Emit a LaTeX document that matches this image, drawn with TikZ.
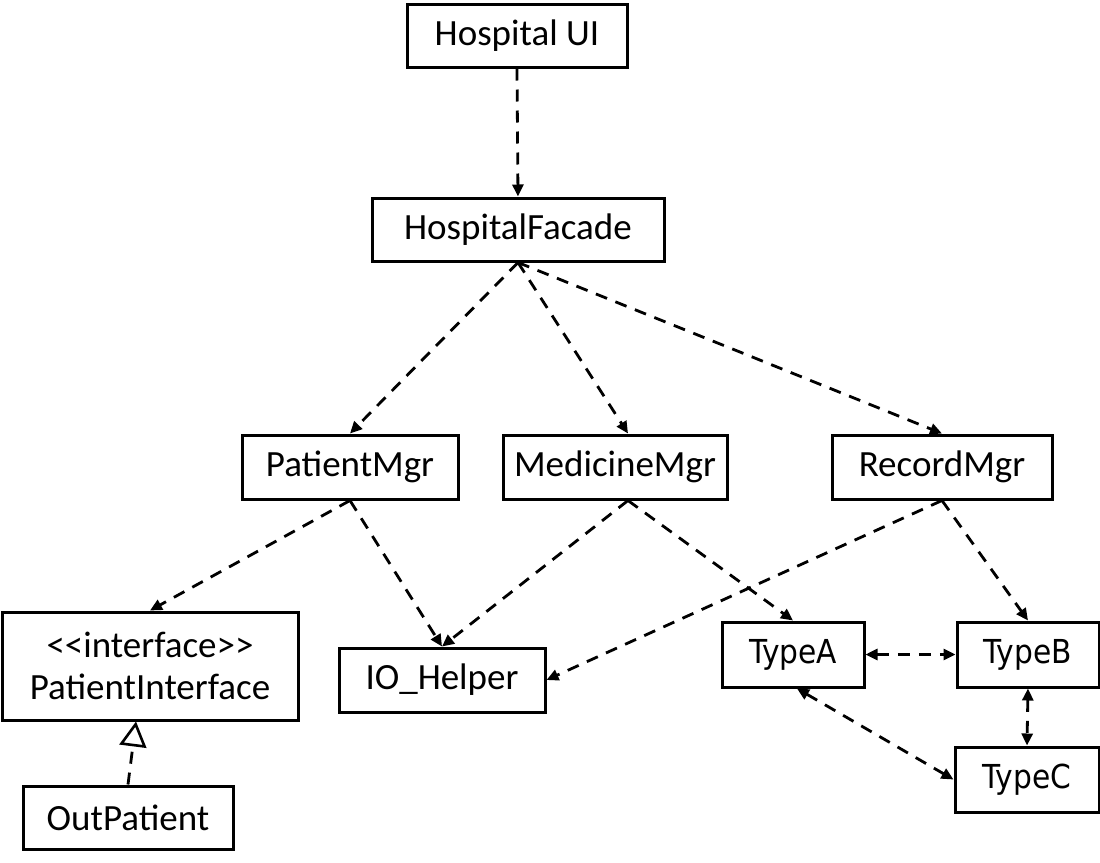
\documentclass[tikz,border=0pt]{standalone}
\usepackage{fontspec}
\setmainfont{Carlito}
\newfontfamily\typefont{DejaVu Sans Condensed}
\usetikzlibrary{arrows.meta}

\begin{document}
\begin{tikzpicture}[x=0.5pt, y=-0.5pt,
    box/.style={draw=black, line width=1.5pt, inner sep=0pt, align=center,
                font=\fontsize{18.5}{21}\selectfont},
    typebox/.style={box, font=\typefont\fontsize{16.5}{19}\selectfont},
    dep/.style={line width=1.4pt, dash pattern=on 6pt off 4.5pt,
                -{Triangle[length=6pt, width=5.5pt]}},
    both/.style={dep, {Triangle[length=6pt, width=5.5pt]}-{Triangle[length=6pt, width=5.5pt]}},
    realize/.style={line width=1.4pt, dash pattern=on 6pt off 4.5pt,
                -{Triangle[open, length=12.5pt, width=13.5pt, line width=1.3pt]}}]

    \useasboundingbox (0,0) rectangle (1100,863);

    % ==========================================
    % --- Top layer ---
    % ==========================================
    \node[box, minimum width=110pt, minimum height=31.5pt] (ui) at (517, 35.5) {Hospital UI};
    \node[box, minimum width=146pt, minimum height=31.5pt] (facade) at (518, 229.5) {HospitalFacade};

    % ==========================================
    % --- Managers ---
    % ==========================================
    \node[box, minimum width=108pt, minimum height=32pt] (patmgr) at (350, 467) {PatientMgr};
    \node[box, minimum width=112pt, minimum height=32pt] (medmgr) at (615, 467) {MedicineMgr};
    \node[box, minimum width=110pt, minimum height=32pt] (recmgr) at (942, 467) {RecordMgr};

    % ==========================================
    % --- Bottom layer ---
    % ==========================================
    \node[box, minimum width=148pt, minimum height=54pt] (patif) at (150, 666) {<{}<interface>{}>\\PatientInterface};
    \node[box, minimum width=105pt, minimum height=31.5pt] (outpat) at (128, 817.5) {OutPatient};
    \node[box, minimum width=103pt, minimum height=32pt] (iohelp) at (442, 680) {IO\_Helper};
    \node[typebox, minimum width=71pt, minimum height=32.5pt] (typea) at (793, 654.5) {TypeA};
    \node[typebox, minimum width=71pt, minimum height=32.5pt] (typeb) at (1028, 654.5) {TypeB};
    \node[typebox, minimum width=72pt, minimum height=32.5pt] (typec) at (1027, 779.5) {TypeC};

    % Dependencies
    \draw[dep] (ui.south) -- (facade.north);
    \draw[dep] (facade.south) -- (patmgr.north);
    \draw[dep] (facade.south) -- ([xshift=6.5pt]medmgr.north);
    \draw[dep] (facade.south) -- (recmgr.north);

    \draw[dep] (patmgr.south) -- (patif.north);
    \draw[dep] (patmgr.south) -- (iohelp.north);
    \draw[dep] ([xshift=6.5pt]medmgr.south) -- (iohelp.north);
    \draw[dep] ([xshift=6.5pt]medmgr.south) -- (typea.north);
    \draw[dep] (recmgr.south) -- (iohelp.east);
    \draw[dep] (recmgr.south) -- (typeb.north);

    % Two-way links between the types
    \draw[both] (typea.east) -- (typeb.west);
    \draw[both] (typeb.south) -- (typec.north);
    \draw[both] ([xshift=2pt]typea.south) -- (typec.west);

    % Realization
    \draw[realize] (outpat.north) -- ([xshift=-7pt]patif.south);

\end{tikzpicture}
\end{document}
